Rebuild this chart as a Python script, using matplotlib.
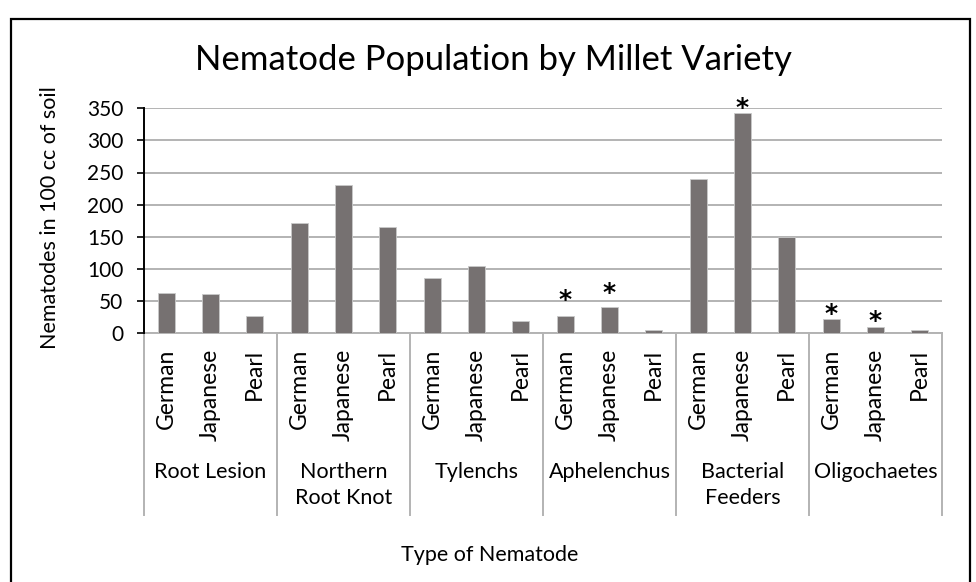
import matplotlib
matplotlib.use("Agg")
import matplotlib.pyplot as plt
import matplotlib.transforms as mtrans
from matplotlib.patches import Rectangle

# ---- data ----
groups = ["Root Lesion", "Northern\nRoot Knot", "Tylenchs", "Aphelenchus",
          "Bacterial\nFeeders", "Oligochaetes"]
varieties = ["German", "Japanese", "Pearl"]
values = [
    [62, 60, 26],      # Root Lesion
    [172, 230, 165],   # Northern Root Knot
    [85, 104, 19],     # Tylenchs
    [27, 40, 4],       # Aphelenchus
    [240, 342, 149],   # Bacterial Feeders
    [22, 9, 4],        # Oligochaetes
]
# height (in data units) of the bottom of each significance asterisk, None = no mark
star_levels = [
    [None, None, None],
    [None, None, None],
    [None, None, None],
    [51, 62, None],
    [None, 349, None],
    [28, 17, None],
]
yticks = [0, 50, 100, 150, 200, 250, 300, 350]

FONT = "Lato"
W, H = 976, 582
fig = plt.figure(figsize=(W / 100, H / 100), dpi=100)

# outer frame
fig.patches.append(Rectangle((11 / W, -0.01), (970 - 11) / W, 1 - 19 / H + 0.01,
                             transform=fig.transFigure, fill=False,
                             edgecolor="black", linewidth=1.6))

x0, x1, ytop, ybot = 144, 942, 108.3, 333
ax = fig.add_axes([x0 / W, 1 - ybot / H, (x1 - x0) / W, (ybot - ytop) / H])

flat_vals, flat_star, flat_lab = [], [], []
for g, row in enumerate(values):
    for v, val in enumerate(row):
        flat_vals.append(val)
        flat_star.append(star_levels[g][v])
        flat_lab.append(varieties[v])
xs = list(range(len(flat_vals)))

ax.bar(xs, flat_vals, width=0.39, color="#767171", edgecolor="#c9c9c9",
       linewidth=0.6, zorder=3)
for x, s in zip(xs, flat_star):
    if s is not None:
        ax.annotate("*", (x, s), xytext=(0, -8.2), textcoords="offset points",
                    ha="center", va="bottom", fontsize=18, fontweight="bold",
                    family="DejaVu Sans", zorder=4, annotation_clip=False)

ax.set_xlim(-0.5, len(xs) - 0.5)
ax.set_ylim(0, 350)
ax.set_yticks(yticks)
ax.set_yticklabels([str(t) for t in yticks], fontsize=15, family=FONT)
ax.tick_params(axis="y", direction="out", length=5, width=1.2, color="black", pad=10)
ax.set_xticks([])
ax.yaxis.grid(True, color="#b3b3b3", linewidth=1.4, zorder=0)
for side in ["top", "right"]:
    ax.spines[side].set_visible(False)
ax.spines["left"].set_color("black")
ax.spines["left"].set_linewidth(1.4)
ax.spines["left"].set_zorder(5)
ax.spines["bottom"].set_color("#b3b3b3")
ax.spines["bottom"].set_linewidth(1.4)

trans = mtrans.blended_transform_factory(ax.transData, ax.transAxes)
ph = ybot - ytop
pw = x1 - x0
# group separators
for b in range(len(groups) + 1):
    xb = b * 3 - 0.5
    ax.plot([xb, xb], [0, -(515 - ybot) / ph], transform=trans, color="#b3b3b3",
            linewidth=1.4, clip_on=False)

# variety labels
for x, lab in zip(xs, flat_lab):
    ax.text(x, -(349 - ybot) / ph, lab, transform=trans, rotation=90,
            ha="center", va="top", fontsize=16.5, family=FONT)
# group labels
for g, name in enumerate(groups):
    ax.text(g * 3 + 1, -(462 - ybot) / ph, name, transform=trans, ha="center",
            va="top", fontsize=15.5, family=FONT, linespacing=1.38)

ax.set_ylabel("Nematodes in 100 cc of soil", fontsize=15.5, family=FONT)
ax.yaxis.set_label_coords((60 - x0) / pw, (ybot - 218) / ph)
fig.text(490 / W, 1 - 555 / H, "Type of Nematode", ha="center", va="center",
         fontsize=15.5, family=FONT)
fig.text(493 / W, 1 - 60 / H, "Nematode Population by Millet Variety", ha="center",
         va="center", fontsize=25, family=FONT)

fig.savefig("out.png", dpi=100)
